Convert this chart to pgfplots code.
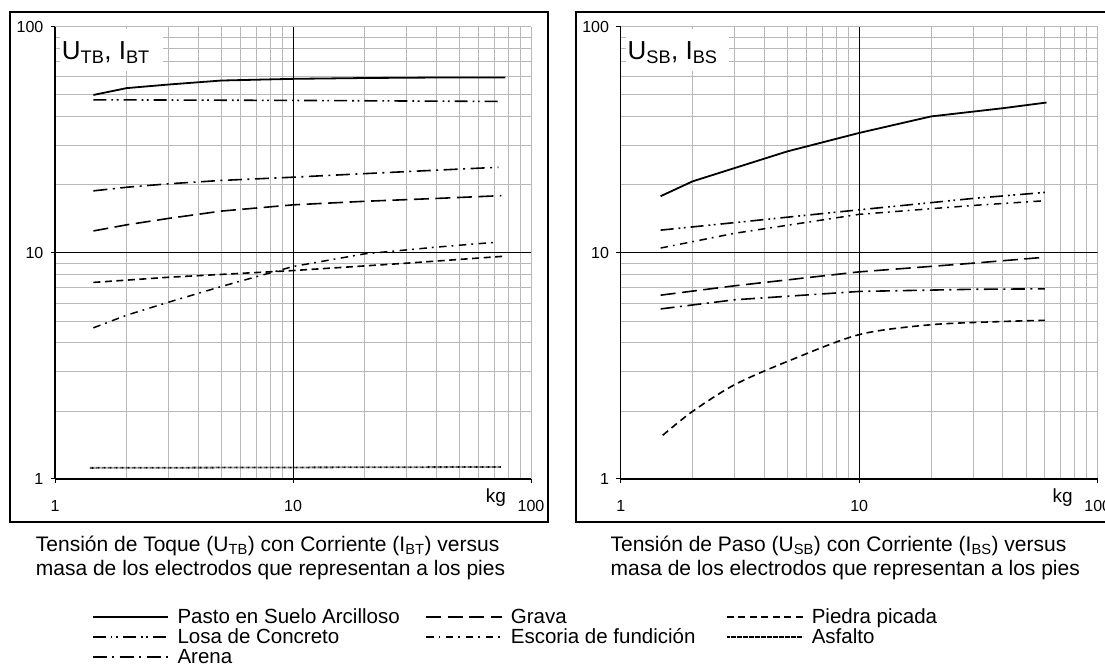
\documentclass[border=0pt]{standalone}
\usepackage{fontspec}
\setmainfont{Liberation Sans}
\usepackage{pgfplots}
\pgfplotsset{compat=1.18}

\newcommand\tickfont{\fontsize{16bp}{19bp}\selectfont}
\newcommand\capfont{\fontsize{21bp}{24bp}\selectfont}
\newcommand\legfont{\fontsize{20.5bp}{20bp}\selectfont}
\newcommand\titfont{\fontsize{26bp}{30bp}\selectfont}
\newcommand\kgfont{\fontsize{19bp}{22bp}\selectfont}

\tikzset{
 pasto/.style={black, line width=1.8bp, solid},
 grava/.style={black, line width=1.6bp, dash pattern=on 15bp off 6.5bp},
 piedra/.style={black, line width=1.6bp, dash pattern=on 7bp off 4.5bp},
 losa/.style={black, line width=1.6bp, dash pattern=on 13bp off 5bp on 1.8bp off 3.5bp on 1.8bp off 5bp},
 escoria/.style={black, line width=1.5bp, dash pattern=on 7.5bp off 5bp on 1.8bp off 5.5bp},
 asfalto/.style={black, line width=1.8bp, dash pattern=on 0.6bp off 0.6bp},
 arena/.style={black, line width=1.6bp, dash pattern=on 14bp off 5.5bp on 2bp off 5.5bp},
}
\pgfplotsset{
  scale only axis, height=452.3bp,
  xmin=1, xmax=100, ymin=1, ymax=100,
  axis x line*=bottom, axis y line*=left,
  axis line style={black, line width=1.3bp},
  xtick={1,10,100}, ytick={1,10,100},
  xticklabels={1,10,100}, yticklabels={1,10,100},
  minor xtick={2,3,4,5,6,7,8,9,20,30,40,50,60,70,80,90},
  minor ytick={2,3,4,5,6,7,8,9,20,30,40,50,60,70,80,90},
  grid=both,
  major grid style={gray!55, line width=0.8bp},
  minor grid style={gray!55, line width=0.8bp},
  tick align=outside, major tick length=4.5bp, minor tick length=0pt,
  tick style={black, line width=1bp},
  ticklabel style={font=\tickfont, inner sep=0pt},
  xticklabel style={anchor=north, yshift=-16.5bp},
  yticklabel style={anchor=east, xshift=-7bp},
  xlabel={kg},
  xlabel style={at={(axis description cs:0.9265,-0.041)}, anchor=center, font=\kgfont, inner sep=0pt},
}

\begin{document}
\begin{tikzpicture}[x=1bp,y=1bp]
\draw[line width=2bp] (9.6,150.3) rectangle (548.2,660);
\draw[line width=2bp] (575.6,150.3) rectangle (1125,660);

\begin{loglogaxis}[at={(55bp,193bp)}, anchor=south west, width=476bp,
  legend columns=3,
  legend image code/.code={\draw[#1] (0bp,6.5bp) -- (75.6bp,6.5bp);},
  legend style={at={(0.0771,-0.2881)}, anchor=north west, draw=none, fill=none,
    inner sep=0pt, outer sep=0pt, font=\legfont, row sep=0bp,
    nodes={inner sep=0pt, text height=14bp, text depth=6bp, anchor=base west},
    /tikz/every odd column/.style={column sep=8.4bp},
    /tikz/every even column/.style={column sep=0bp}},
  legend cell align=left]
\draw[black, line width=0.9bp] (axis cs:10,1) -- (axis cs:10,100);
\draw[black, line width=0.9bp] (axis cs:1,10) -- (axis cs:100,10);
\addplot[pasto] coordinates {(1.45,49.9) (2,53.5) (3,55.5) (5,57.8) (10,58.8) (20,59.3) (40,59.6) (78,59.6)};
\addlegendentry{\makebox[247.8bp][l]{Pasto en Suelo Arcilloso}}
\addplot[grava] coordinates {(1.45,12.5) (2,13.3) (3,14.2) (5,15.3) (10,16.3) (20,16.9) (40,17.4) (75,17.9)};
\addlegendentry{\makebox[215.1bp][l]{Grava}}
\addplot[piedra] coordinates {(1.45,7.4) (3,7.8) (10,8.35) (30,9.0) (76,9.65)};
\addlegendentry{Piedra picada}
\addplot[losa] coordinates {(1.45,47.5) (10,47.2) (75,46.7)};
\addlegendentry{\makebox[247.8bp][l]{Losa de Concreto}}
\addplot[escoria] coordinates {(1.45,4.66) (2,5.3) (3,6.05) (5,7.1) (10,8.7) (20,9.9) (40,10.6) (72,11.15)};
\addlegendentry{\makebox[215.1bp][l]{Escoria de fundición}}
\addplot[asfalto] coordinates {(1.4,1.12) (75,1.13)};
\addlegendentry{Asfalto}
\addplot[arena] coordinates {(1.45,18.8) (2,19.5) (3,20.2) (5,20.9) (10,21.6) (20,22.4) (40,23.2) (73,23.9)};
\addlegendentry{\makebox[247.8bp][l]{Arena}}
\node[fill=white, inner sep=0pt, minimum width=103bp, minimum height=42bp, anchor=north west] at ([xshift=5bp,yshift=-2bp]rel axis cs:0,1) {};
\node[anchor=base west, inner sep=0pt, font=\titfont] at ([xshift=6.7bp,yshift=-32.6bp]rel axis cs:0,1) {U\textsubscript{TB}, I\textsubscript{BT}};
\end{loglogaxis}

\begin{loglogaxis}[at={(620.7bp,193bp)}, anchor=south west, width=477bp]
\draw[black, line width=0.9bp] (axis cs:10,1) -- (axis cs:10,100);
\draw[black, line width=0.9bp] (axis cs:1,10) -- (axis cs:100,10);
\addplot[pasto] coordinates {(1.47,17.8) (2,20.7) (3,23.7) (5,28.1) (10,33.9) (20,40.1) (40,43.6) (61,46.2)};
\addplot[losa] coordinates {(1.47,12.6) (3,13.6) (10,15.5) (30,17.4) (60,18.5)};
\addplot[escoria] coordinates {(1.47,10.5) (3,12.2) (10,14.8) (30,16.2) (60,17.0)};
\addplot[grava] coordinates {(1.47,6.5) (3,7.15) (10,8.24) (30,9.0) (60,9.56)};
\addplot[arena] coordinates {(1.47,5.65) (3,6.2) (10,6.75) (30,6.9) (60,6.93)};
\addplot[piedra, smooth] coordinates {(1.5,1.56) (2,1.99) (3,2.61) (5,3.31) (10,4.35) (20,4.81) (40,4.97) (60,5.03)};
\node[fill=white, inner sep=0pt, minimum width=103bp, minimum height=42bp, anchor=north west] at ([xshift=5bp,yshift=-2bp]rel axis cs:0,1) {};
\node[anchor=base west, inner sep=0pt, font=\titfont] at ([xshift=6.7bp,yshift=-32.6bp]rel axis cs:0,1) {U\textsubscript{SB}, I\textsubscript{BS}};
\end{loglogaxis}

\node[anchor=base west, inner sep=0pt, font=\capfont] at (35.7,120.3) {Tensión de Toque (U\textsubscript{TB}) con Corriente (I\textsubscript{BT}) versus};
\node[anchor=base west, inner sep=0pt, font=\capfont] at (35.7,96.3) {masa de los electrodos que representan a los pies};
\node[anchor=base west, inner sep=0pt, font=\capfont] at (610.4,120.3) {Tensión de Paso (U\textsubscript{SB}) con Corriente (I\textsubscript{BS}) versus};
\node[anchor=base west, inner sep=0pt, font=\capfont] at (610.4,96.3) {masa de los electrodos que representan a los pies};

\pgfresetboundingbox
\path (0,0) rectangle (1105,672);
\end{tikzpicture}
\end{document}
